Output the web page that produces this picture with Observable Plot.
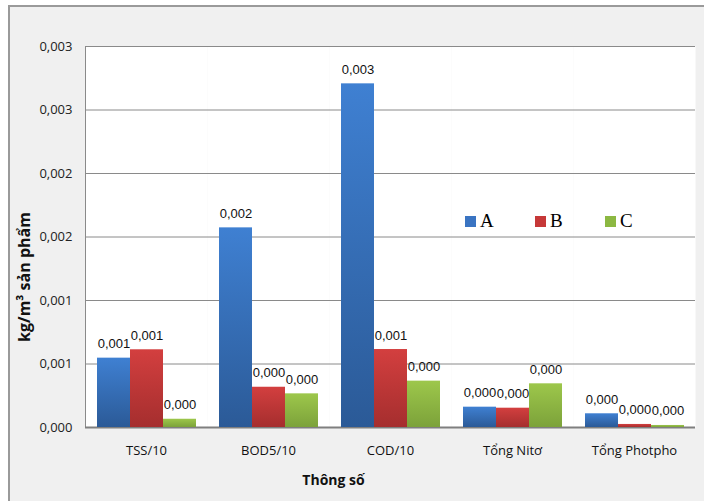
<!DOCTYPE html>
<html>
<head>
<meta charset="utf-8">
<script src="https://cdn.jsdelivr.net/npm/d3@7"></script>
<script src="https://cdn.jsdelivr.net/npm/@observablehq/plot@0.6"></script>
<style>
  body { margin: 0; background: #fff; }
  #wrap { position: relative; width: 704px; height: 501px; overflow: hidden; }
  #bg { position: absolute; left: 8px; top: 5px; right: 0; bottom: 0; background: #f0f0f0;
        border-left: 2px solid #9a9a9a; border-top: 2px solid #9a9a9a; }
  #chart { position: absolute; left: 0; top: 0; }
  #legend { position: absolute; left: 465px; top: 210px; display: flex;
            font-family: "Liberation Serif", serif; font-size: 19px; color: #000; }
  #legend .item { display: flex; align-items: center; width: 70px; }
  #legend .sw { width: 11px; height: 11px; margin-right: 4px; }
</style>
</head>
<body>
<svg width="0" height="0" style="position:absolute">
  <defs>
    <linearGradient id="gA" x1="0" y1="0" x2="0" y2="1">
      <stop offset="0" stop-color="#3f80d2"/><stop offset="1" stop-color="#2b5a97"/>
    </linearGradient>
    <linearGradient id="gB" x1="0" y1="0" x2="0" y2="1">
      <stop offset="0" stop-color="#d33f3f"/><stop offset="1" stop-color="#a52e2e"/>
    </linearGradient>
    <linearGradient id="gC" x1="0" y1="0" x2="0" y2="1">
      <stop offset="0" stop-color="#9dc74b"/><stop offset="1" stop-color="#7ca23a"/>
    </linearGradient>
  </defs>
</svg>
<div id="wrap">
  <div id="bg"></div>
  <div id="chart"></div>
  <div id="legend"></div>
</div>
<script>
const categories = ["TSS/10", "BOD5/10", "COD/10", "Tổng Nitơ", "Tổng Photpho"];
const seriesNames = ["A", "B", "C"];
const valuesA = [0.000546, 0.001572, 0.002706, 0.000160, 0.000108];
const valuesB = [0.000612, 0.000317, 0.000614, 0.000152, 0.000024];
const valuesC = [0.000065, 0.000265, 0.000365, 0.000344, 0.000016];
const yTicks = [0, 0.0005, 0.001, 0.0015, 0.002, 0.0025, 0.003];
const yTickLabels = ["0,000", "0,001", "0,001", "0,002", "0,002", "0,003", "0,003"];
const seriesFills = ["url(#gA)", "url(#gB)", "url(#gC)"];
const seriesSwatches = ["#3a74c2", "#c63838", "#8cb842"];
const yTitle = "kg/m³ sản phẩm";
const xTitle = "Thông số";

const seriesValues = [valuesA, valuesB, valuesC];
const rows = [];
categories.forEach((cat, i) => {
  seriesNames.forEach((s, j) => rows.push({cat, series: s, value: seriesValues[j][i]}));
});
const fmt = v => d3.format(".3f")(v).replace(".", ",");
const tickLabel = new Map(yTicks.map((t, i) => [t, yTickLabels[i]]));

const chart = Plot.plot({
  width: 704,
  height: 501,
  marginLeft: 83,
  marginRight: 7,
  marginTop: 46,
  marginBottom: 74,
  style: {background: "transparent", overflow: "visible"},
  fx: {domain: categories, padding: 0, axis: null},
  x: {domain: seriesNames, paddingInner: 0, paddingOuter: 0.342, axis: null},
  y: {domain: [0, 0.003], axis: null},
  color: {domain: seriesNames, range: seriesFills},
  marks: [
    Plot.frame({fill: "white", stroke: "none"}),
    Plot.ruleY(yTicks, {stroke: "#8a8a8a", strokeWidth: 1}),
    Plot.frame({facet: "super", anchor: "left", stroke: "#8a8a8a"}),
    Plot.ruleY([0], {stroke: "#7f7f7f", strokeWidth: 2}),
    Plot.barY(rows, {fx: "cat", x: "series", y: "value", fill: "series"}),
    Plot.text(rows, {fx: "cat", x: "series", y: "value", text: d => fmt(d.value),
      lineAnchor: "bottom", dy: -10, fontSize: 13, fontFamily: "Liberation Sans", fill: "#111"}),
    Plot.axisY({ticks: yTicks, tickFormat: d => tickLabel.get(d), tickSize: 0, tickPadding: 13,
      fontSize: 13, fontFamily: "Open Sans", label: null, fill: "#222"}),
    Plot.axisFx({anchor: "bottom", tickSize: 0, tickPadding: 18, label: null,
      fontSize: 13, fontFamily: "Open Sans", fill: "#111"}),
    Plot.text([xTitle], {facet: "super", frameAnchor: "bottom", dx: -57, dy: 57, lineAnchor: "bottom",
      fontSize: 14, fontWeight: "bold", fontFamily: "Open Sans", fill: "#111"}),
    Plot.text([yTitle], {facet: "super", frameAnchor: "left", textAnchor: "middle", rotate: -90, dx: -61, dy: 40,
      fontSize: 16, fontWeight: "bold", fontFamily: "Open Sans", fill: "#111"})
  ]
});
document.getElementById("chart").appendChild(chart);

const legend = d3.select("#legend");
seriesNames.forEach((s, i) => {
  const it = legend.append("div").attr("class", "item");
  it.append("div").attr("class", "sw").style("background", seriesSwatches[i]);
  it.append("span").text(s);
});
</script>
</body>
</html>
